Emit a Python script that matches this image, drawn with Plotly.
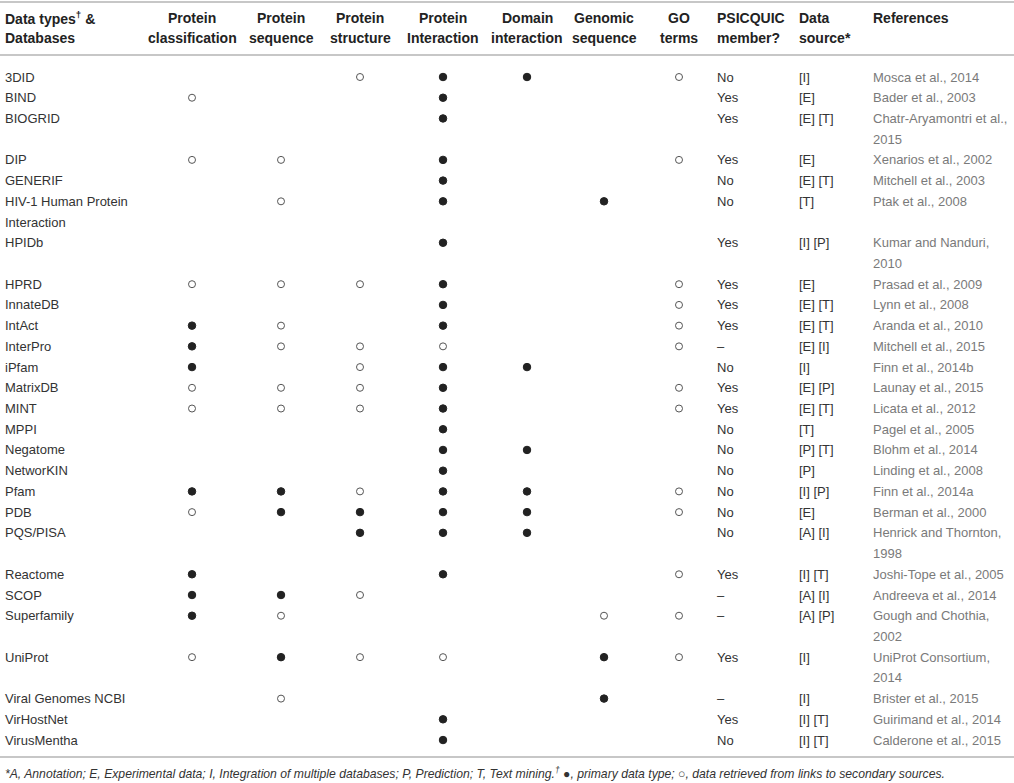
import plotly.graph_objects as go

# table content
databases = ["3DID", "BIND", "BIOGRID", "DIP", "GENERIF", "HIV-1 Human Protein\nInteraction",
             "HPIDb", "HPRD", "InnateDB", "IntAct", "InterPro", "iPfam", "MatrixDB", "MINT",
             "MPPI", "Negatome", "NetworKIN", "Pfam", "PDB", "PQS/PISA", "Reactome", "SCOP",
             "Superfamily", "UniProt", "Viral Genomes NCBI", "VirHostNet", "VirusMentha"]

# P = primary data type (filled), S = links to secondary sources (open), "" = none
protein_classification = ["", "S", "", "S", "", "", "", "S", "", "P", "P", "P", "S", "S",
                          "", "", "", "P", "S", "", "P", "P", "P", "S", "", "", ""]
protein_sequence = ["", "", "", "S", "", "S", "", "S", "", "S", "S", "", "S", "S",
                    "", "", "", "P", "P", "", "", "P", "S", "P", "S", "", ""]
protein_structure = ["S", "", "", "", "", "", "", "S", "", "", "S", "S", "S", "S",
                     "", "", "", "S", "P", "P", "", "S", "", "S", "", "", ""]
protein_interaction = ["P", "P", "P", "P", "P", "P", "P", "P", "P", "P", "S", "P", "P", "P",
                       "P", "P", "P", "P", "P", "P", "P", "", "", "S", "", "P", "P"]
domain_interaction = ["P", "", "", "", "", "", "", "", "", "", "", "P", "", "",
                      "", "P", "", "P", "P", "P", "", "", "", "", "", "", ""]
genomic_sequence = ["", "", "", "", "", "P", "", "", "", "", "", "", "", "",
                    "", "", "", "", "", "", "", "", "S", "P", "P", "", ""]
go_terms = ["S", "", "", "S", "", "", "", "S", "S", "S", "S", "", "S", "S",
            "", "", "", "S", "S", "", "S", "", "S", "S", "", "", ""]

psicquic = ["No", "Yes", "Yes", "Yes", "No", "No", "Yes", "Yes", "Yes", "Yes", "\u2013", "No",
            "Yes", "Yes", "No", "No", "No", "No", "No", "No", "Yes", "\u2013", "\u2013", "Yes",
            "\u2013", "Yes", "No"]
data_source = ["[I]", "[E]", "[E] [T]", "[E]", "[E] [T]", "[T]", "[I] [P]", "[E]", "[E] [T]",
               "[E] [T]", "[E] [I]", "[I]", "[E] [P]", "[E] [T]", "[T]", "[P] [T]", "[P]",
               "[I] [P]", "[E]", "[A] [I]", "[I] [T]", "[A] [I]", "[A] [P]", "[I]", "[I]",
               "[I] [T]", "[I] [T]"]
references = ["Mosca et al., 2014", "Bader et al., 2003", "Chatr-Aryamontri et al.,\n2015",
              "Xenarios et al., 2002", "Mitchell et al., 2003", "Ptak et al., 2008",
              "Kumar and Nanduri,\n2010", "Prasad et al., 2009", "Lynn et al., 2008",
              "Aranda et al., 2010", "Mitchell et al., 2015", "Finn et al., 2014b",
              "Launay et al., 2015", "Licata et al., 2012", "Pagel et al., 2005",
              "Blohm et al., 2014", "Linding et al., 2008", "Finn et al., 2014a",
              "Berman et al., 2000", "Henrick and Thornton,\n1998", "Joshi-Tope et al., 2005",
              "Andreeva et al., 2014", "Gough and Chothia,\n2002", "UniProt Consortium,\n2014",
              "Brister et al., 2015", "Guirimand et al., 2014", "Calderone et al., 2015"]

dot_headers = ["Protein\nclassification", "Protein\nsequence", "Protein\nstructure",
               "Protein\nInteraction", "Domain\ninteraction", "Genomic\nsequence", "GO\nterms"]
dot_columns = [protein_classification, protein_sequence, protein_structure,
               protein_interaction, domain_interaction, genomic_sequence, go_terms]

footnote = ("<i>*A, Annotation; E, Experimental data; I, Integration of multiple databases; "
            "P, Prediction; T, Text mining.<sup>\u2020</sup> \u25CF, primary data type; "
            "\u25CB, data retrieved from links to secondary sources.</i>")

# layout (pixels)
W, H = 1014, 783
FONT = "Liberation Sans, Arial, sans-serif"
TEXT = "#333333"
REF = "#7a7a7a"
RULE = "#b5b5b5"
first_row = 77
line_h = 20.72
dot_x = [192, 281, 360, 443, 527, 604, 679]
x_name, x_psi, x_src, x_ref = 3, 715, 797, 871

# row start lines from the number of text lines in each row
row_y = []
line = 0
for i in range(len(databases)):
    row_y.append(first_row + line * line_h)
    n = max(databases[i].count("\n"), references[i].count("\n")) + 1
    line += n

fig = go.Figure()

for col, x in zip(dot_columns, dot_x):
    for kind, sym, col_ in [("P", "circle", "#222222"), ("S", "circle-open", "#555555")]:
        ys = [row_y[i] for i, v in enumerate(col) if v == kind]
        fig.add_trace(go.Scatter(
            x=[x] * len(ys), y=ys, mode="markers",
            marker=dict(symbol=sym, size=7.5 if kind == "P" else 7, color=col_,
                        line=dict(width=1, color=col_)),
            showlegend=False, hoverinfo="skip",
        ))

annotations = []


def add_text(x, y, text, color=TEXT, anchor="left", bold=False, size=13, step=line_h):
    for k, part in enumerate(text.split("\n")):
        annotations.append(dict(
            x=x, y=y + k * step, xref="x", yref="y", text=f"<b>{part}</b>" if bold else part,
            showarrow=False, xanchor=anchor, yanchor="middle",
            font=dict(family=FONT, size=size, color=color),
        ))


for i in range(len(databases)):
    add_text(x_name, row_y[i], databases[i])
    add_text(x_psi, row_y[i], psicquic[i])
    add_text(x_src, row_y[i], data_source[i])
    add_text(x_ref, row_y[i], references[i], color=REF)

# header
hy = 18
hc = "#222222"
add_text(x_name, hy, "Data types<sup>\u2020</sup> &\nDatabases", color=hc, bold=True, size=14, step=19.5)
for h, x in zip(dot_headers, dot_x):
    add_text(x, hy, h, color=hc, anchor="center", bold=True, size=14, step=19.5)
add_text(x_psi, hy, "PSICQUIC\nmember?", color=hc, bold=True, size=14, step=19.5)
add_text(x_src, hy, "Data\nsource*", color=hc, bold=True, size=14, step=19.5)
add_text(x_ref, hy, "References", color=hc, bold=True, size=14, step=19.5)

annotations.append(dict(
    x=x_name, y=773, xref="x", yref="y", text=footnote, showarrow=False,
    xanchor="left", yanchor="middle", font=dict(family=FONT, size=12.2, color=TEXT),
))

shapes = [dict(type="line", xref="x", yref="y", x0=0, x1=W, y0=yy, y1=yy,
               line=dict(color=RULE, width=1.5)) for yy in (2, 55, 757)]

fig.update_layout(
    width=W, height=H, margin=dict(l=0, r=0, t=0, b=0),
    paper_bgcolor="white", plot_bgcolor="white",
    xaxis=dict(range=[0, W], visible=False, fixedrange=True),
    yaxis=dict(range=[H, 0], visible=False, fixedrange=True),
    annotations=annotations, shapes=shapes,
)

fig.write_html("out.html", config={"displayModeBar": False},
               post_script="document.body.style.margin='0';")
